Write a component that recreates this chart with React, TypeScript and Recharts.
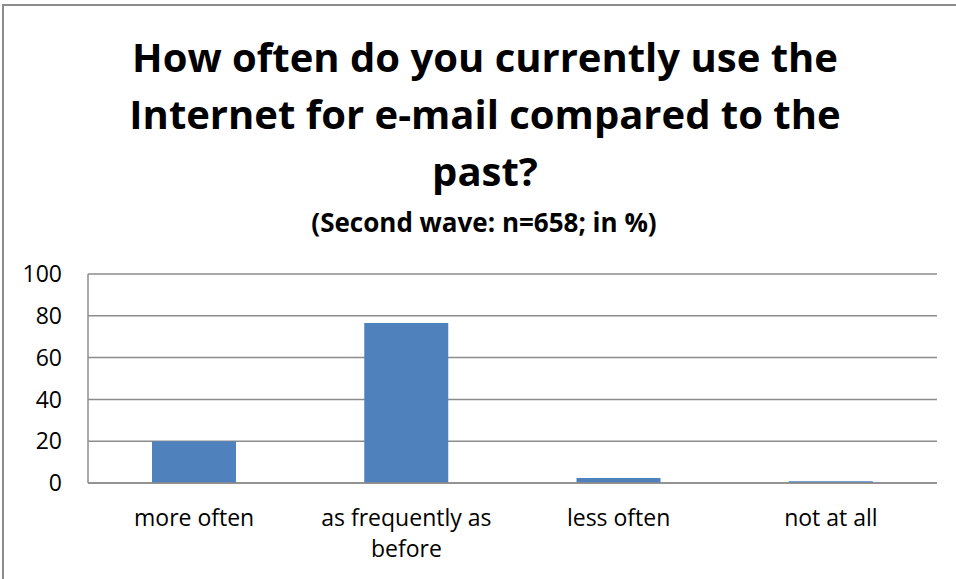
import { BarChart, Bar, XAxis, YAxis, CartesianGrid } from 'recharts'

const categories = ['more often', 'as frequently as before', 'less often', 'not at all']
const shares = [20, 76.5, 2.4, 0.8]
const yTicks = [0, 20, 40, 60, 80, 100]
const titleLines = ['How often do you currently use the', 'Internet for e-mail compared to the', 'past?']
const subtitle = '(Second wave: n=658; in %)'

const data = categories.map((name, i) => ({ name, value: shares[i] }))

const FONT = '"Open Sans", Lato, sans-serif'
const GRID = '#8c8c8c'

// split a label into lines of at most 16 chars, like the Excel wrap
function wrap(label: string, max = 16) {
  const lines: string[] = []
  let cur = ''
  label.split(' ').forEach(w => {
    const next = cur ? cur + ' ' + w : w
    if (next.length > max && cur) {
      lines.push(cur)
      cur = w
    } else {
      cur = next
    }
  })
  if (cur) lines.push(cur)
  return lines
}

function CategoryTick({ x, y, payload }: any) {
  const lines = wrap(String(payload.value))
  return (
    <text x={x} y={y} textAnchor="middle" fill="#000" fontSize={23} fontFamily={FONT}>
      {lines.map((l, i) => (
        <tspan key={i} x={x} dy={i === 0 ? 43 : 31}>{l}</tspan>
      ))}
    </text>
  )
}

export default function App() {
  return (
    <div style={{ position: 'absolute', left: 0, top: 0, width: 956, height: 579, background: '#fff', overflow: 'hidden' }}>
      <div
        style={{
          position: 'absolute',
          left: 2,
          top: 4,
          width: 960,
          height: 600,
          borderTop: `2px solid ${GRID}`,
          borderLeft: `2px solid ${GRID}`,
        }}
      />
      <svg width={956} height={250} style={{ position: 'absolute', left: 0, top: 0 }}>
        {titleLines.map((t, i) => (
          <text
            key={i}
            x={485}
            y={72 + i * 57}
            textAnchor="middle"
            fontFamily={FONT}
            fontWeight="bold"
            fontSize={40}
            fill="#000"
          >
            {t}
          </text>
        ))}
        <text x={484} y={232} textAnchor="middle" fontFamily={FONT} fontWeight="bold" fontSize={26} fill="#000">
          {subtitle}
        </text>
      </svg>
      <div style={{ position: 'absolute', left: 0, top: 0 }}>
        <BarChart width={956} height={579} data={data} margin={{ top: 274, right: 19, bottom: 0, left: 0 }}>
          <CartesianGrid vertical={false} stroke={GRID} strokeWidth={1.5} />
          <XAxis
            dataKey="name"
            interval={0}
            axisLine={{ stroke: GRID, strokeWidth: 1.5 }}
            tickLine={false}
            tickSize={0}
            tickMargin={0}
            tick={<CategoryTick />}
            height={96}
          />
          <YAxis
            domain={[0, 100]}
            ticks={yTicks}
            width={88}
            axisLine={{ stroke: GRID, strokeWidth: 1.5 }}
            tickLine={false}
            tickSize={0}
            tickMargin={26}
            tick={{ fill: '#000', fontSize: 23, fontFamily: FONT }}
          />
          <Bar dataKey="value" fill="#4f81bd" barSize={84} isAnimationActive={false} />
        </BarChart>
      </div>
    </div>
  )
}
